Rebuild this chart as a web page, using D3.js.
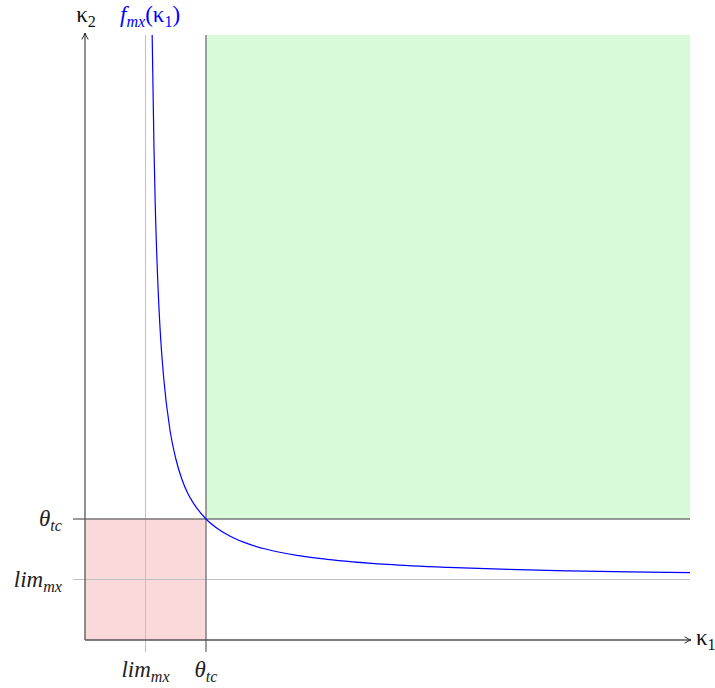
<!DOCTYPE html>
<html>
<head>
<meta charset="utf-8">
<script src="https://cdn.jsdelivr.net/npm/d3@7"></script>
</head>
<body style="margin:0">
<svg width="715" height="688"></svg>
<script>
// thresholds on both axes
const thetaTc = 1.0;
const limMx = 0.5;
const axisMax = 5;

// tick labels (main, subscript)
const tickNames = ['lim', '\u03b8'];
const tickSubs = ['mx', 'tc'];
const tickValues = [limMx, thetaTc];

// f_mx(k1)
const curveK1 = [0.555, 0.57, 0.58, 0.6, 0.62, 0.65, 0.7, 0.75, 0.8, 0.85, 0.9, 1.0, 1.1, 1.2, 1.35, 1.5, 1.75, 2.0, 2.5, 3.0, 3.5, 4.0, 4.5, 5.0];
const curveK2 = [5.0, 4.07, 3.62, 3.0, 2.58, 2.17, 1.75, 1.5, 1.33, 1.21, 1.125, 1.0, 0.917, 0.857, 0.794, 0.75, 0.70, 0.667, 0.625, 0.60, 0.583, 0.571, 0.5625, 0.556];

const serifFont = 'Liberation Serif';
const svg = d3.select('svg');
const x = d3.scaleLinear().domain([0, axisMax]).range([85, 690]);
const y = d3.scaleLinear().domain([0, axisMax]).range([640, 35]);

// regions
svg.append('rect')
  .attr('x', x(thetaTc)).attr('y', y(axisMax))
  .attr('width', x(axisMax) - x(thetaTc)).attr('height', y(thetaTc) - y(axisMax))
  .attr('fill', '#d9fad9');
svg.append('rect')
  .attr('x', x(0)).attr('y', y(thetaTc))
  .attr('width', x(thetaTc) - x(0)).attr('height', y(0) - y(thetaTc))
  .attr('fill', '#f9d9d9');

// lim lines (grey) and theta lines (dark)
const lineColor = (v) => v === limMx ? '#c0c0c0' : '#777';
tickValues.forEach((v) => {
  svg.append('line')
    .attr('x1', x(v)).attr('x2', x(v))
    .attr('y1', y(axisMax)).attr('y2', y(0) + 12)
    .attr('stroke', lineColor(v)).attr('stroke-width', v === limMx ? 1 : 1.4);
  svg.append('line')
    .attr('x1', x(0) - 12).attr('x2', x(axisMax))
    .attr('y1', y(v)).attr('y2', y(v))
    .attr('stroke', lineColor(v)).attr('stroke-width', v === limMx ? 1 : 1.4);
});

// curve
const pts = curveK1.map((k, i) => [k, curveK2[i]]);
svg.append('path')
  .datum(pts)
  .attr('fill', 'none')
  .attr('stroke', '#0000ff')
  .attr('stroke-width', 1.2)
  .attr('d', d3.line().x((d) => x(d[0])).y((d) => y(d[1])).curve(d3.curveMonotoneX));

// axes with arrows
svg.append('defs').append('marker')
  .attr('id', 'arr').attr('viewBox', '0 0 10 10')
  .attr('refX', 9).attr('refY', 5)
  .attr('markerWidth', 8).attr('markerHeight', 8)
  .attr('markerUnits', 'userSpaceOnUse')
  .attr('orient', 'auto')
  .append('path').attr('d', 'M1,1 Q6,4 9,5 Q6,6 1,9')
  .attr('fill', 'none').attr('stroke', '#222').attr('stroke-width', 1.2);

svg.append('line')
  .attr('x1', x(0)).attr('x2', x(axisMax) + 1)
  .attr('y1', y(0)).attr('y2', y(0))
  .attr('stroke', '#555').attr('stroke-width', 1.3)
  .attr('marker-end', 'url(#arr)');
svg.append('line')
  .attr('x1', x(0)).attr('x2', x(0))
  .attr('y1', y(0)).attr('y2', y(axisMax) - 2)
  .attr('stroke', '#555').attr('stroke-width', 1.3)
  .attr('marker-end', 'url(#arr)');

// math label made of separate text pieces: [string, isSub, italic]
// drawn large and scaled down
const k = 0.575;
function mathLabel(pieces, px, py, anchor, color) {
  const g = svg.append('g');
  let cx = 0;
  pieces.forEach(([str, sub, italic]) => {
    const t = g.append('text')
      .attr('x', cx).attr('y', sub ? 9 : 0)
      .attr('font-family', serifFont)
      .attr('style', `font-family: '${serifFont}', 'Times New Roman', serif`)
      .attr('font-size', sub ? 28 : 40)
      .attr('font-style', italic ? 'italic' : 'normal')
      .attr('fill', color)
      .text(str);
    cx += t.node().getComputedTextLength();
  });
  const w = cx * k;
  const shift = anchor === 'end' ? -w : anchor === 'middle' ? -w / 2 : 0;
  g.attr('transform', `translate(${px + shift}, ${py}) scale(${k})`);
}

tickValues.forEach((v, i) => {
  const p = [[tickNames[i], false, true], [tickSubs[i], true, true]];
  mathLabel(p, x(v), 677, 'middle', '#222');
  mathLabel(p, 62, y(v) + 7, 'end', '#222');
});

// axis names
mathLabel([['\u03ba', false, false], ['1', true, false]], 696, 645, 'start', '#111');
mathLabel([['\u03ba', false, false], ['2', true, false]], 86, 22, 'middle', '#111');

// curve name
mathLabel([['f', false, true], ['mx', true, true], ['(\u03ba', false, false], ['1', true, false], [')', false, false]],
  120, 22, 'start', '#0000ff');
</script>
</body>
</html>
